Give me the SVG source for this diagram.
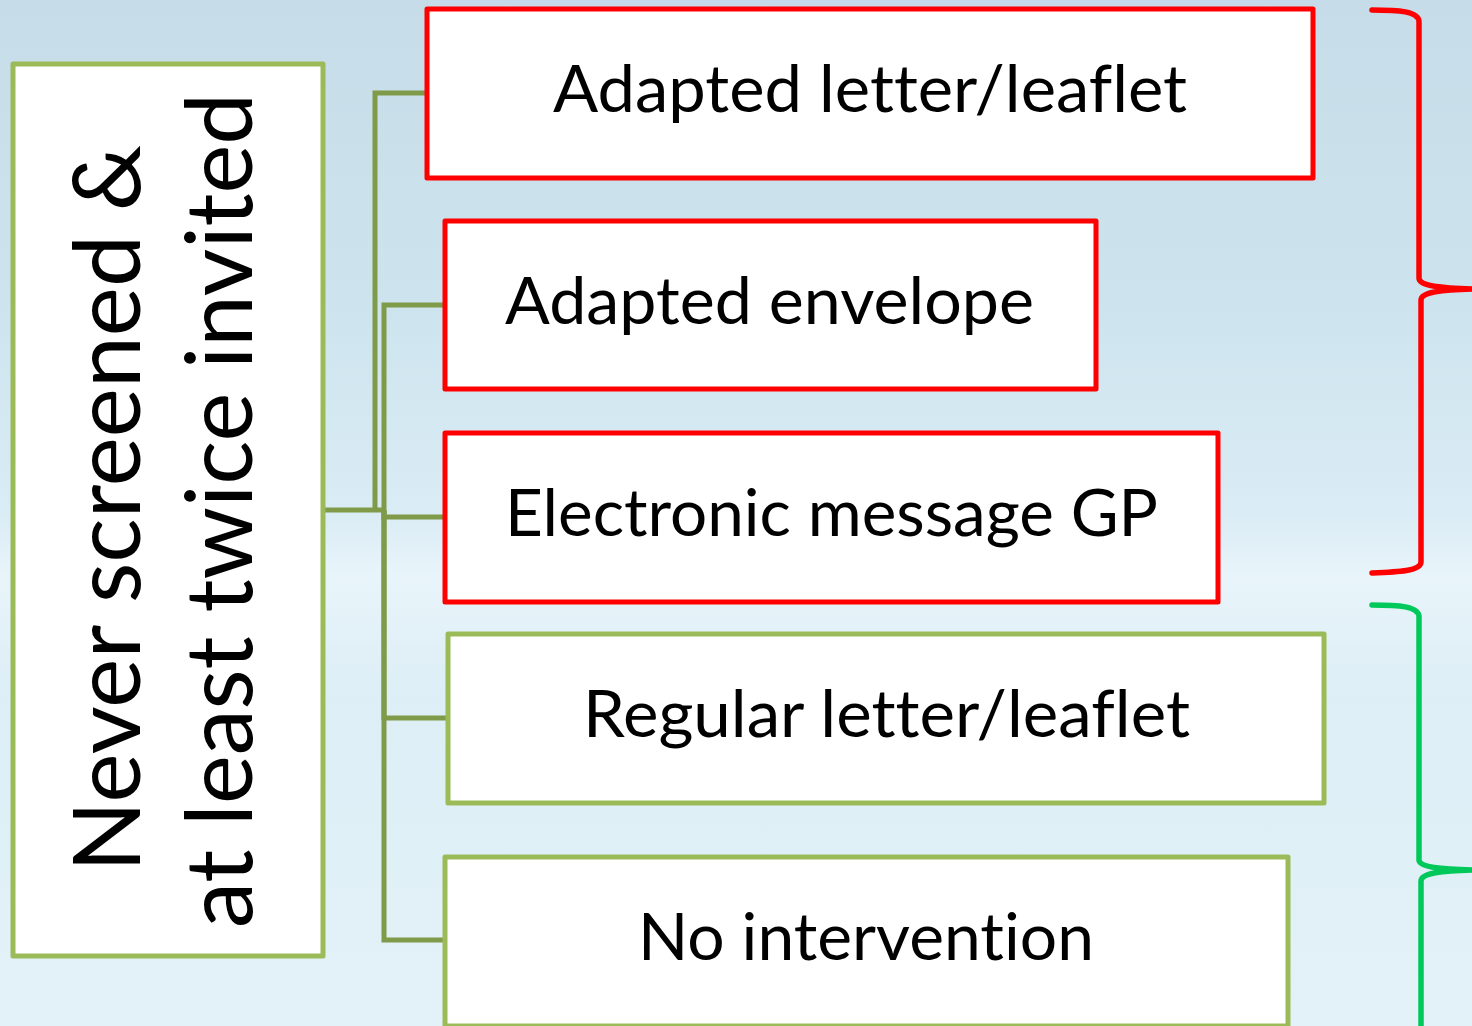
<svg xmlns="http://www.w3.org/2000/svg" width="1472" height="1026" viewBox="0 0 1472 1026">
  <defs>
    <linearGradient id="sky" x1="0" y1="0" x2="0" y2="1">
      <stop offset="0" stop-color="#C6DCE8"/>
      <stop offset="0.3" stop-color="#CDE4EE"/>
      <stop offset="0.5" stop-color="#DAECF5"/>
      <stop offset="0.56" stop-color="#E8F4FA"/>
      <stop offset="0.68" stop-color="#DDEEF6"/>
      <stop offset="1" stop-color="#E3F2F8"/>
    </linearGradient>
    <style>
      .box { fill: #FFFFFF; stroke-width: 5; stroke-linejoin: round; }
      .red { stroke: #FF0000; }
      .grn { stroke: #9BBB59; }
      .conn { fill: none; stroke: #7F9A48; stroke-width: 5; }
      .brace { fill: none; stroke-width: 5.5; stroke-linecap: round; stroke-linejoin: round; }
      .lbl { font-family: Lato, "Open Sans", "Liberation Sans", sans-serif; font-size: 66px; fill: #000000; font-variant-ligatures: none; }
      .big { font-family: Lato, "Open Sans", "Liberation Sans", sans-serif; font-size: 94px; fill: #000000; font-variant-ligatures: none; }
    </style>
  </defs>

  <rect x="0" y="0" width="1472" height="1026" fill="url(#sky)"/>

  <g id="connectors">
    <path class="conn" d="M323,510 H386"/>
    <path class="conn" d="M375,510 V93 H427"/>
    <path class="conn" d="M384,510 V305 H445"/>
    <path class="conn" d="M384,510 V517 H445"/>
    <path class="conn" d="M384,510 V718 H448"/>
    <path class="conn" d="M384,510 V940 H445"/>
  </g>

  <g id="root">
    <rect class="box grn" x="13" y="64" width="310" height="892"/>
    <text class="big" transform="translate(140,872) rotate(-90)" x="0" y="0" textLength="727" lengthAdjust="spacingAndGlyphs">Never screened &amp;</text>
    <text class="big" transform="translate(252,928) rotate(-90)" x="0" y="0" textLength="835" lengthAdjust="spacingAndGlyphs">at least twice invited</text>
  </g>

  <g id="n1">
    <rect class="box red" x="427" y="9" width="886" height="169"/>
    <text class="lbl" x="553" y="112" textLength="634" lengthAdjust="spacingAndGlyphs">Adapted letter/leaflet</text>
  </g>
  <g id="n2">
    <rect class="box red" x="445" y="221" width="651" height="168"/>
    <text class="lbl" x="505" y="324" textLength="529" lengthAdjust="spacingAndGlyphs">Adapted envelope</text>
  </g>
  <g id="n3">
    <rect class="box red" x="445" y="433" width="773" height="169"/>
    <text class="lbl" x="505" y="536" textLength="653" lengthAdjust="spacingAndGlyphs">Electronic message GP</text>
  </g>
  <g id="n4">
    <rect class="box grn" x="448" y="634" width="876" height="169"/>
    <text class="lbl" x="583" y="737" textLength="607" lengthAdjust="spacingAndGlyphs">Regular letter/leaflet</text>
  </g>
  <g id="n5">
    <rect class="box grn" x="445" y="857" width="843" height="169"/>
    <text class="lbl" x="638" y="960" textLength="456" lengthAdjust="spacingAndGlyphs">No intervention</text>
  </g>

  <g id="brace-red">
    <path class="brace" stroke="#FF0000" d="M1372,10 C1398,10 1419,11 1419,22 V278 C1419,286 1440,288 1472,289 M1472,289 C1440,290 1421,292 1421,300 V562 C1421,571 1398,572 1372,573"/>
  </g>
  <g id="brace-green">
    <path class="brace" stroke="#00C85A" d="M1372,605 C1398,605 1419,606 1419,617 V860 C1419,867 1440,869 1472,870 M1472,870 C1440,871 1421,873 1421,881 V1030"/>
  </g>
</svg>
